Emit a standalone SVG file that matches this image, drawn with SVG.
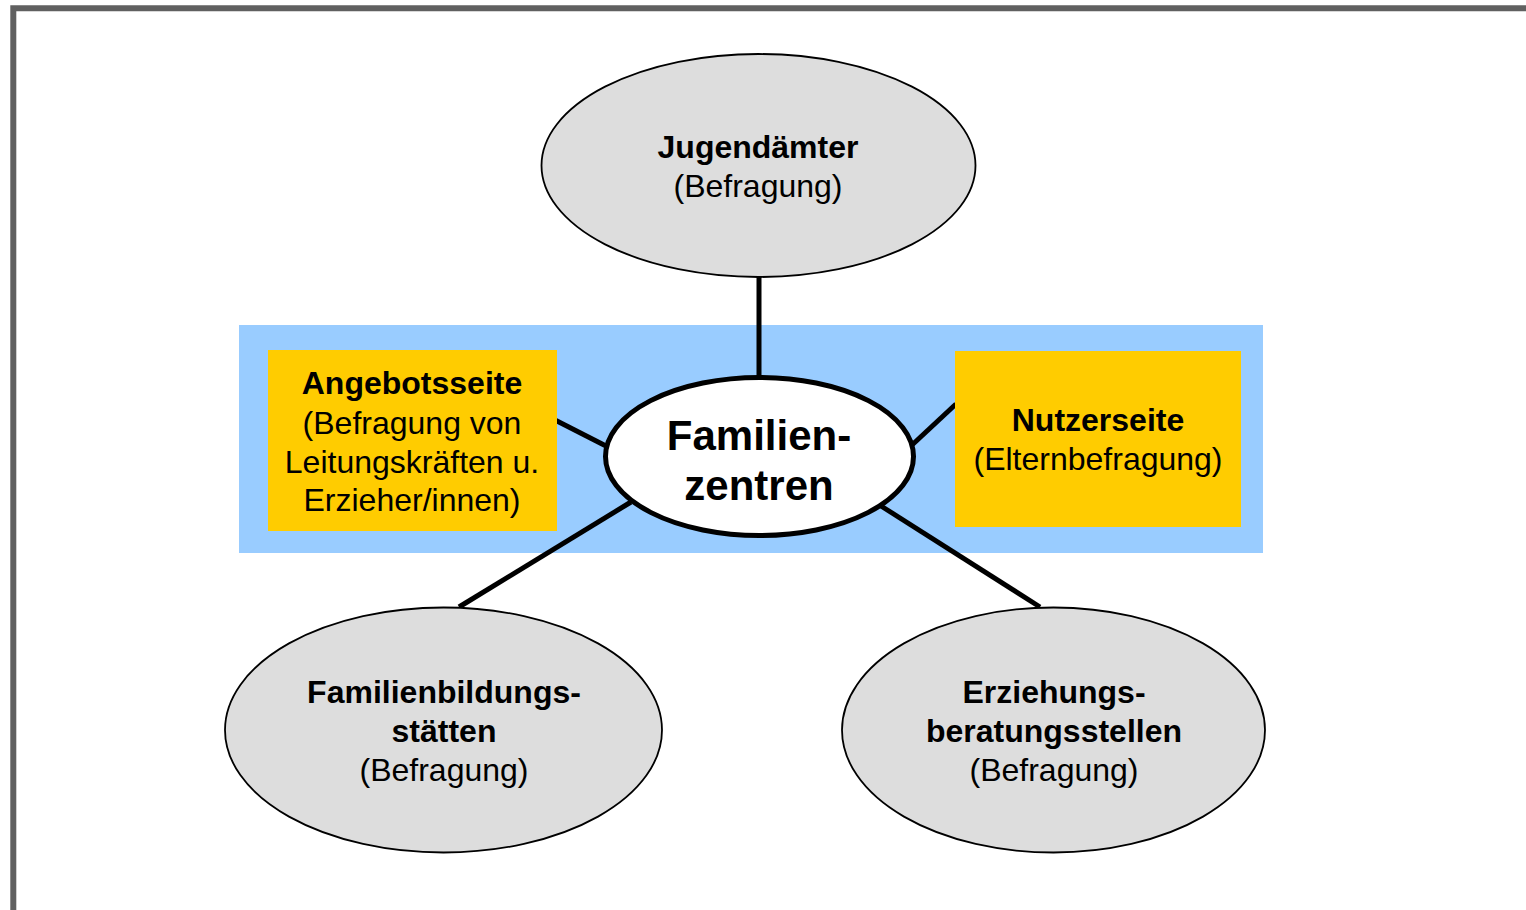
<svg xmlns="http://www.w3.org/2000/svg" width="1526" height="910" viewBox="0 0 1526 910">
<style>
text{font-family:"Liberation Sans",Arial,sans-serif;fill:#000;text-anchor:middle}
.b{font-weight:bold;font-size:32px}
.r{font-size:32px}
.c{font-weight:bold;font-size:42px}
.sat{fill:#dddddd;stroke:#000;stroke-width:1.8}
.con{stroke:#000;stroke-width:5;fill:none}
</style>
<rect x="0" y="0" width="1526" height="910" fill="#fff"/>
<polyline points="13.3,915 13.3,8.3 1530,8.3" fill="none" stroke="#606060" stroke-width="6"/>
<rect id="band" x="239" y="325" width="1024" height="228" fill="#99ccff"/>
<g id="connectors">
<line class="con" x1="759" y1="277" x2="759" y2="380"/>
<line class="con" x1="556" y1="420.5" x2="606" y2="446"/>
<line class="con" x1="956" y1="404" x2="912" y2="445"/>
<line class="con" x1="631" y1="502" x2="459" y2="607"/>
<line class="con" x1="881" y1="506" x2="1040" y2="607"/>
</g>
<g id="angebotsseite">
<rect x="268" y="350" width="289" height="181" fill="#ffcc00"/>
<text class="b" x="412" y="394">Angebotsseite</text>
<text class="r" x="412" y="434">(Befragung von</text>
<text class="r" x="412" y="473">Leitungskräften u.</text>
<text class="r" x="412" y="511">Erzieher/innen)</text>
</g>
<g id="nutzerseite">
<rect x="955" y="351" width="286" height="176" fill="#ffcc00"/>
<text class="b" x="1098" y="431">Nutzerseite</text>
<text class="r" x="1098" y="470">(Elternbefragung)</text>
</g>
<g id="familienzentren">
<ellipse cx="759.5" cy="456.5" rx="154" ry="79" fill="#fff" stroke="#000" stroke-width="5"/>
<text class="c" x="759" y="450">Familien-</text>
<text class="c" x="759" y="500">zentren</text>
</g>
<g id="jugendaemter">
<ellipse class="sat" cx="758.5" cy="165.5" rx="217" ry="111.5"/>
<text class="b" x="758" y="158">Jugendämter</text>
<text class="r" x="758" y="197">(Befragung)</text>
</g>
<g id="familienbildungsstaetten">
<ellipse class="sat" cx="443.5" cy="730" rx="218.5" ry="122.5"/>
<text class="b" x="444" y="703">Familienbildungs-</text>
<text class="b" x="444" y="742">stätten</text>
<text class="r" x="444" y="781">(Befragung)</text>
</g>
<g id="erziehungsberatungsstellen">
<ellipse class="sat" cx="1053.5" cy="730" rx="211.5" ry="122.5"/>
<text class="b" x="1054" y="703">Erziehungs-</text>
<text class="b" x="1054" y="742">beratungsstellen</text>
<text class="r" x="1054" y="781">(Befragung)</text>
</g>
</svg>
